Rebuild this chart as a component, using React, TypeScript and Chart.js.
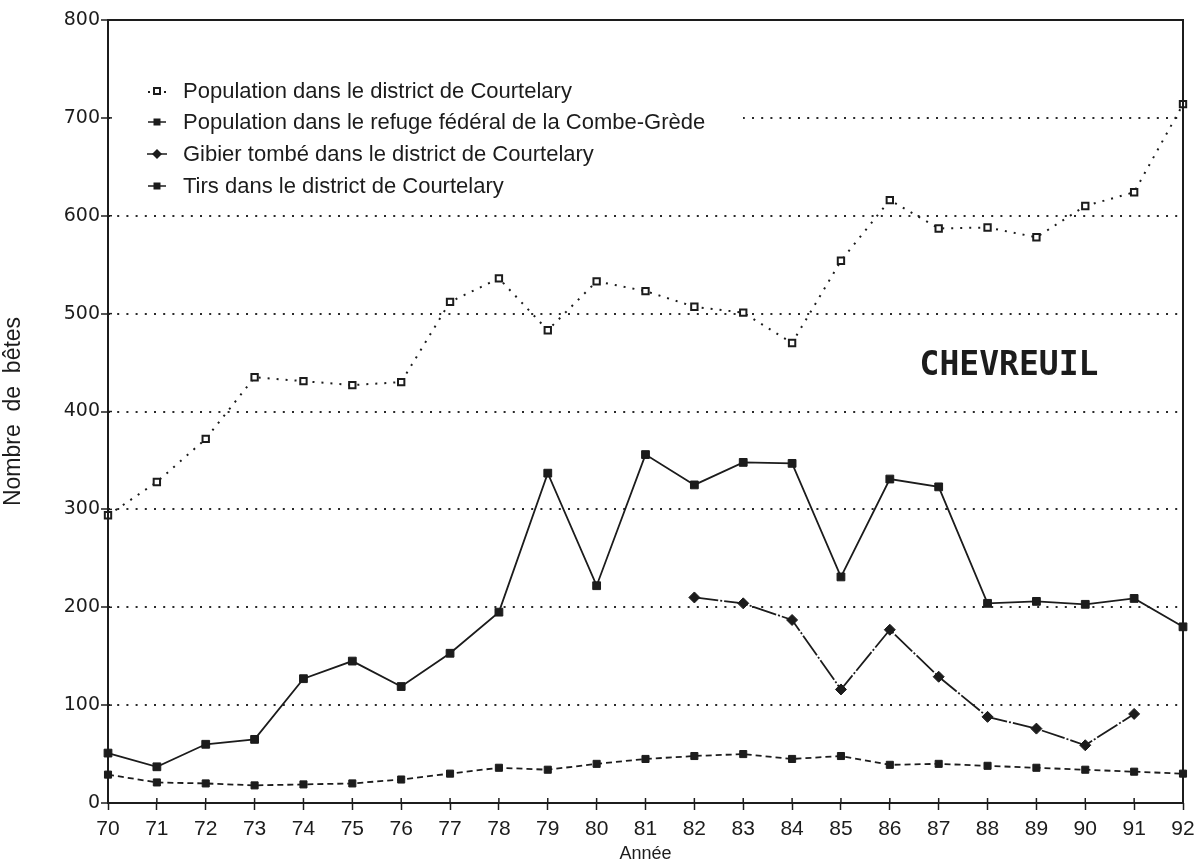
import React, { useEffect, useRef } from 'react';
import { Chart, registerables } from 'chart.js';

Chart.register(...registerables);

const years = ['70', '71', '72', '73', '74', '75', '76', '77', '78', '79', '80', '81', '82', '83', '84', '85', '86', '87', '88', '89', '90', '91', '92'];
const popCourtelary = [294, 328, 372, 435, 431, 427, 430, 512, 536, 483, 533, 523, 507, 501, 470, 554, 616, 587, 588, 578, 610, 624, 714];
const popRefuge = [29, 21, 20, 18, 19, 20, 24, 30, 36, 34, 40, 45, 48, 50, 45, 48, 39, 40, 38, 36, 34, 32, 30];
const gibier = [null, null, null, null, null, null, null, null, null, null, null, null, 210, 204, 187, 116, 177, 129, 88, 76, 59, 91, null];
const tirs = [51, 37, 60, 65, 127, 145, 119, 153, 195, 337, 222, 356, 325, 348, 347, 231, 331, 323, 204, 206, 203, 209, 180];
const yTickValues = [0, 100, 200, 300, 400, 500, 600, 700, 800];
const legendLabels = [
  'Population dans le district de Courtelary',
  'Population dans le refuge fédéral de la Combe-Grède',
  'Gibier tombé dans le district de Courtelary',
  'Tirs dans le district de Courtelary',
];
const chartTitle = 'CHEVREUIL';
const xTitle = 'Année';
const yTitle = 'Nombre  de  bêtes';

const INK = '#1c1c1c';

const framePlugin = {
  id: 'frame',
  afterDraw(chart: any) {
    const { ctx, chartArea } = chart;
    const { left, right, top, bottom } = chartArea;
    ctx.save();
    // legend background (hides grid line under legend)
    ctx.fillStyle = '#ffffff';
    ctx.fillRect(left + 3, top + 48, 632, 136);

    // frame
    ctx.strokeStyle = INK;
    ctx.lineWidth = 2;
    ctx.strokeRect(left, top, right - left, bottom - top);

    // inward tick marks
    ctx.lineWidth = 1.5;
    const xs = chart.scales.x;
    for (let i = 0; i < years.length; i++) {
      const px = xs.getPixelForValue(i);
      ctx.beginPath();
      ctx.moveTo(px, bottom);
      ctx.lineTo(px, bottom - 5);
      ctx.stroke();
    }
    const ys = chart.scales.y;
    yTickValues.forEach((v) => {
      const py = ys.getPixelForValue(v);
      ctx.beginPath();
      ctx.moveTo(left, py);
      ctx.lineTo(left + 4, py);
      ctx.stroke();
    });

    // legend
    const lx = left + 49;
    const tx = left + 75;
    const rowY = [top + 71, top + 102, top + 134, top + 166];
    ctx.font = '22px "Liberation Sans", Arial, sans-serif';
    ctx.textBaseline = 'middle';
    ctx.textAlign = 'left';
    rowY.forEach((y, i) => {
      ctx.fillStyle = INK;
      ctx.strokeStyle = INK;
      ctx.lineWidth = 1.5;
      if (i === 0) {
        ctx.fillRect(lx - 9, y, 2, 2);
        ctx.fillRect(lx + 7, y, 2, 2);
        ctx.fillStyle = '#fff';
        ctx.lineWidth = 2;
        ctx.fillRect(lx - 3, y - 3, 6, 6);
        ctx.strokeRect(lx - 3, y - 3, 6, 6);
      } else if (i === 1) {
        ctx.beginPath();
        ctx.moveTo(lx - 9, y);
        ctx.lineTo(lx + 9, y);
        ctx.stroke();
        ctx.fillRect(lx - 3.5, y - 3.5, 7, 7);
      } else if (i === 2) {
        ctx.beginPath();
        ctx.moveTo(lx - 10, y);
        ctx.lineTo(lx + 10, y);
        ctx.stroke();
        ctx.beginPath();
        ctx.moveTo(lx, y - 5);
        ctx.lineTo(lx + 5, y);
        ctx.lineTo(lx, y + 5);
        ctx.lineTo(lx - 5, y);
        ctx.closePath();
        ctx.fill();
      } else {
        ctx.beginPath();
        ctx.moveTo(lx - 9, y);
        ctx.lineTo(lx + 9, y);
        ctx.stroke();
        ctx.fillRect(lx - 3.5, y - 3.5, 7, 7);
      }
      ctx.fillStyle = INK;
      ctx.fillText(legendLabels[i], tx, y + 1);
    });

    // title
    ctx.font = 'bold 33px "DejaVu Sans Mono", monospace';
    ctx.textAlign = 'center';
    ctx.fillStyle = INK;
    ctx.fillText(chartTitle, 1009, 366);
    ctx.restore();
  },
};

export default function App() {
  const ref = useRef<HTMLCanvasElement | null>(null);

  useEffect(() => {
    if (!ref.current) return;
    const chart = new Chart(ref.current, {
      type: 'line',
      data: {
        labels: years,
        datasets: [
          {
            label: legendLabels[0],
            data: popCourtelary,
            borderColor: INK,
            borderWidth: 2,
            borderDash: [2, 7],
            pointStyle: 'rect',
            pointRadius: 4.5,
            pointBackgroundColor: '#ffffff',
            pointBorderColor: INK,
            pointBorderWidth: 2,
            tension: 0,
          },
          {
            label: legendLabels[1],
            data: popRefuge,
            borderColor: INK,
            borderWidth: 1.8,
            borderDash: [6, 4],
            pointStyle: 'rect',
            pointRadius: 5,
            pointBackgroundColor: INK,
            pointBorderColor: INK,
            pointBorderWidth: 1,
            tension: 0,
          },
          {
            label: legendLabels[2],
            data: gibier,
            borderColor: INK,
            borderWidth: 1.8,
            borderDash: [24, 2, 2, 2],
            pointStyle: 'rectRot',
            pointRadius: 5.5,
            pointBackgroundColor: INK,
            pointBorderColor: INK,
            pointBorderWidth: 1,
            spanGaps: false,
            tension: 0,
          },
          {
            label: legendLabels[3],
            data: tirs,
            borderColor: INK,
            borderWidth: 1.8,
            pointStyle: 'rect',
            pointRadius: 5.5,
            pointBackgroundColor: INK,
            pointBorderColor: INK,
            pointBorderWidth: 1,
            tension: 0,
          },
        ],
      },
      options: {
        responsive: false,
        animation: false,
        layout: { padding: { left: 0, right: 11, top: 20, bottom: 0 } },
        plugins: {
          legend: { display: false },
          tooltip: { enabled: false },
        },
        scales: {
          x: {
            type: 'category',
            offset: false,
            grid: {
              display: true,
              drawOnChartArea: false,
              drawTicks: true,
              tickLength: 7,
              tickColor: INK,
              tickWidth: 1.5,
            },
            border: { display: false },
            ticks: {
              autoSkip: false,
              maxRotation: 0,
              padding: 7,
              color: INK,
              font: { family: '"Liberation Sans", Arial, sans-serif', size: 21 },
            },
            title: {
              display: true,
              text: xTitle,
              color: INK,
              padding: { top: 0, bottom: 0 },
              font: { family: '"Liberation Sans", Arial, sans-serif', size: 18, lineHeight: 0.8 },
            },
            afterFit: (s: any) => {
              s.height = 58;
              s.paddingLeft = 0;
              s.paddingRight = 0;
            },
          },
          y: {
            min: 0,
            max: 800,
            afterBuildTicks: (s: any) => {
              s.ticks = yTickValues.map((v) => ({ value: v }));
            },
            grid: {
              color: (c: any) => (c.tick && (c.tick.value === 0 || c.tick.value === 800) ? 'rgba(0,0,0,0)' : '#2a2a2a'),
              lineWidth: 2,
              tickLength: 7,
              tickColor: INK,
              tickWidth: 1.5,
            },
            border: { display: false, dash: [2, 7.2] },
            ticks: {
              padding: 1,
              color: INK,
              font: { family: '"DejaVu Sans", sans-serif', size: 19 },
            },
            title: {
              display: true,
              text: yTitle,
              color: INK,
              padding: { top: 0, bottom: 8 },
              font: { family: '"Liberation Sans", Arial, sans-serif', size: 23 },
            },
            afterFit: (s: any) => {
              s.width = 108;
              s.paddingTop = 0;
              s.paddingBottom = 0;
            },
          },
        },
      },
      plugins: [framePlugin],
    });
    return () => chart.destroy();
  }, []);

  return (
    <div style={{ position: 'absolute', left: 0, top: 0, width: 1194, height: 861, background: '#fff' }}>
      <canvas ref={ref} width={1194} height={861} style={{ display: 'block' }} />
    </div>
  );
}
